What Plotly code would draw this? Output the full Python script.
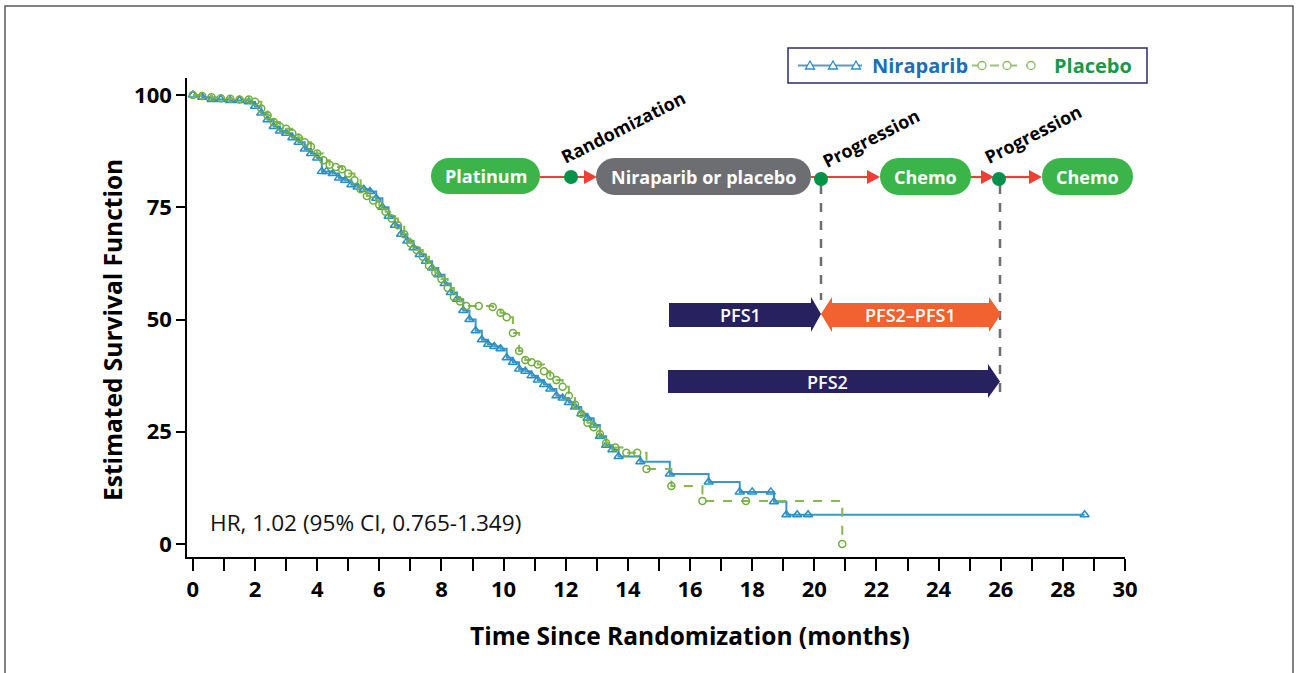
import plotly.graph_objects as go

# ---------------- data ----------------
nir_t = [0, 0.3, 0.6, 0.9, 1.2, 1.5, 1.8, 2.0, 2.2, 2.4, 2.6, 2.8, 3.0, 3.2, 3.4, 3.6, 3.8,
         4.0, 4.15, 4.3, 4.5, 4.7, 4.9, 5.1, 5.3, 5.5, 5.7, 5.9, 6.1, 6.3, 6.5, 6.7, 6.9,
         7.1, 7.3, 7.5, 7.7, 7.9, 8.1, 8.3, 8.5, 8.7, 8.9, 9.1, 9.3, 9.5, 9.7, 9.9, 10.1,
         10.3, 10.5, 10.7, 10.9, 11.1, 11.3, 11.5, 11.7, 11.9, 12.1, 12.3, 12.5, 12.7, 12.9,
         13.1, 13.3, 13.5, 13.7, 14.4, 15.35, 16.6, 17.6, 18.0, 18.6, 18.7, 19.1, 19.45,
         19.8, 28.7]
nir_s = [100, 99.5, 99, 99, 98.8, 98.8, 98.5, 97.5, 96, 94.5, 93, 92, 91.5, 90.5, 89.5, 88,
         87, 86, 83, 83, 82.5, 81.5, 81, 80, 79.5, 79, 78.5, 77, 75, 73, 71, 69, 67.5, 66,
         64.5, 63, 61.5, 60, 58, 56, 54.5, 52, 50, 47.5, 45.5, 44.5, 44, 43.5, 41.5, 40.5,
         39, 38.5, 37.5, 36.5, 35.5, 34.5, 33, 32.5, 31.5, 30.5, 29, 28, 26.5, 24, 22, 21,
         19.5, 18.3, 15.6, 13.8, 11.6, 11.6, 11.6, 9.4, 6.5, 6.5, 6.5, 6.5]

pla_t = [0, 0.3, 0.6, 0.9, 1.2, 1.5, 1.8, 2.0, 2.2, 2.4, 2.6, 2.8, 3.0, 3.2, 3.4, 3.6, 3.8,
         4.0, 4.2, 4.4, 4.6, 4.8, 5.0, 5.2, 5.4, 5.6, 5.8, 6.0, 6.2, 6.4, 6.6, 6.8, 7.0,
         7.2, 7.4, 7.6, 7.8, 8.0, 8.2, 8.4, 8.6, 8.8, 9.2, 9.65, 9.9, 10.1, 10.3, 10.5,
         10.7, 10.9, 11.1, 11.3, 11.5, 11.7, 11.9, 12.1, 12.3, 12.5, 12.7, 12.9, 13.1,
         13.3, 13.6, 13.95, 14.3, 14.6, 15.4, 16.4, 17.8, 20.9]
pla_s = [100, 99.8, 99.5, 99.3, 99.2, 99, 99, 98.5, 97, 95.5, 94, 93, 92.5, 91.5, 90.5,
         89.5, 88.5, 87, 85.5, 84.5, 84, 83.5, 82.5, 81, 79, 77.5, 76.5, 75.5, 74, 72.5,
         71, 69, 67, 65.5, 64, 62, 60.5, 59, 57, 55, 54, 53, 53, 52.8, 51.5, 50.5, 47, 43,
         41, 40.5, 40, 38.5, 37.5, 36.5, 35, 33, 31, 29, 27, 26, 24.5, 22.5, 21.5, 20.3,
         20.3, 16.7, 12.9, 9.6, 9.6, 0]

x_ticks = list(range(0, 31, 2))
y_ticks = [0, 25, 50, 75, 100]
series_names = ["Niraparib", "Placebo"]

# ---------------- layout geometry helpers ----------------
W, H = 1297, 673
L, R, T, B = 187, 1125, 78, 557
FONT = "Open Sans"


def P(x, y):
    return ((x - L) / (R - L), (B - y) / (B - T))


def poly(points, close=True):
    s = ""
    for i, (x, y) in enumerate(points):
        px, py = P(x, y)
        s += ("M" if i == 0 else "L") + f"{px:.5f},{py:.5f} "
    return s + ("Z" if close else "")


def pill(x0, y0, x1, y1):
    r = (y1 - y0) / 2
    cy = (y0 + y1) / 2
    k = 0.5523 * r
    segs = [("M", [(x0 + r, y0)]), ("L", [(x1 - r, y0)]),
            ("C", [(x1 - r + k, y0), (x1, cy - k), (x1, cy)]),
            ("C", [(x1, cy + k), (x1 - r + k, y1), (x1 - r, y1)]),
            ("L", [(x0 + r, y1)]),
            ("C", [(x0 + r - k, y1), (x0, cy + k), (x0, cy)]),
            ("C", [(x0, cy - k), (x0 + r - k, y0), (x0 + r, y0)])]
    s = ""
    for cmd, pts in segs:
        s += cmd + " ".join(f"{P(x, y)[0]:.5f},{P(x, y)[1]:.5f}" for x, y in pts) + " "
    return s + "Z"


shapes = []
annotations = []


def label(txt, cx, cy, size, color="black", weight="bold", angle=0, xanchor="center"):
    a, b = P(cx, cy)
    annotations.append(dict(xref="paper", yref="paper", x=a, y=b, text=txt, showarrow=False,
                            xanchor=xanchor, yanchor="middle", textangle=angle,
                            font=dict(family=FONT, size=size, color=color, weight=weight)))


def pline(x0, y0, x1, y1, color, width, dash="solid"):
    a0, b0 = P(x0, y0)
    a1, b1 = P(x1, y1)
    shapes.append(dict(type="line", xref="paper", yref="paper", x0=a0, y0=b0, x1=a1, y1=b1,
                       line=dict(color=color, width=width, dash=dash)))


# outer frame
fx0, fy0 = P(5, 6)
fx1, fy1 = P(1293, 700)
shapes.append(dict(type="rect", xref="paper", yref="paper", x0=fx0, x1=fx1, y0=fy1, y1=fy0,
                   line=dict(color="#5a5a5a", width=1.5), layer="below"))

GREEN_PILL = "#3bb54a"
GRAY_PILL = "#6d6e71"
RED = "#ee3e36"
DOT = "#00924a"
NAVY = "#27215f"
ORANGE = "#f26130"
NIR_LINE = "#3b97c4"
NIR_MARK = "#2a8ec4"
PLA_LINE = "#86b94e"
PLA_MARK = "#72ad3f"

# ---------------- custom legend ----------------
bx0, by0 = P(788, 48)
bx1, by1 = P(1147, 83)
shapes.append(dict(type="rect", xref="paper", yref="paper", x0=bx0, x1=bx1, y0=by1, y1=by0,
                   line=dict(color="#2e2a6e", width=1.5), fillcolor="white"))
LGY = 65.5
pline(798, LGY, 862, LGY, "#5f9ab8", 2)
for mx in [810, 833, 856]:
    shapes.append(dict(type="path", xref="paper", yref="paper",
                       path=poly([(mx - 4.5, LGY + 3.5), (mx, LGY - 4.5), (mx + 4.5, LGY + 3.5)]),
                       fillcolor="white", line=dict(color=NIR_MARK, width=1.3)))
label(series_names[0], 920, LGY, 20, color="#1a6fb5")
pline(972, LGY, 1043, LGY, "#9cc27a", 2, dash="dash")
for mx in [982, 1007, 1031]:
    a0, b0 = P(mx - 4, LGY + 4)
    a1, b1 = P(mx + 4, LGY - 4)
    shapes.append(dict(type="circle", xref="paper", yref="paper", x0=a0, x1=a1, y0=b0, y1=b1,
                       fillcolor="white", line=dict(color="#8bb960", width=1.3)))
label(series_names[1], 1093, LGY, 20, color="#17994a")

# ---------------- schematic ----------------
pills = [(431, 158, 540, 194, GREEN_PILL, "Platinum"),
         (596, 158, 811, 195, GRAY_PILL, "Niraparib or placebo"),
         (880, 158, 971, 195, GREEN_PILL, "Chemo"),
         (1042, 158, 1133, 195, GREEN_PILL, "Chemo")]
for x0, y0, x1, y1, col, txt in pills:
    shapes.append(dict(type="path", xref="paper", yref="paper", path=pill(x0, y0, x1, y1),
                       fillcolor=col, line=dict(width=0)))
    label(txt, (x0 + x1) / 2, (y0 + y1) / 2, 18, color="white")

LY = 177
connectors = [(540, 597), (811, 880), (971, 994), (1004, 1042)]
for xa, xb in connectors:
    pline(xa, LY, xb - 10, LY, RED, 2.2)
    shapes.append(dict(type="path", xref="paper", yref="paper",
                       path=poly([(xb - 13, LY - 7), (xb, LY), (xb - 13, LY + 7)]),
                       fillcolor=RED, line=dict(width=0)))

for xv, yb in [(821, 300), (1000, 398)]:
    pline(xv, 185, xv, yb, "#6d6e71", 2.5, dash="dash")

for xd, yd in [(571, 177), (821, 179), (999, 179)]:
    a0, b0 = P(xd - 7, yd + 7)
    a1, b1 = P(xd + 7, yd - 7)
    shapes.append(dict(type="circle", xref="paper", yref="paper", x0=a0, x1=a1, y0=b0, y1=b1,
                       fillcolor=DOT, line=dict(width=0)))

for txt, cx, cy in [("Randomization", 623, 127), ("Progression", 871, 138),
                    ("Progression", 1033, 134)]:
    label(txt, cx, cy, 18, angle=-27)

shapes.append(dict(type="path", xref="paper", yref="paper",
                   path=poly([(669, 303), (811, 303), (811, 297), (821, 314), (811, 332),
                              (811, 327), (669, 327)]),
                   fillcolor=NAVY, line=dict(width=0)))
shapes.append(dict(type="path", xref="paper", yref="paper",
                   path=poly([(821, 314), (832, 297), (832, 303), (989, 303), (989, 297),
                              (1001, 314), (989, 332), (989, 327), (832, 327), (832, 332)]),
                   fillcolor=ORANGE, line=dict(width=0)))
shapes.append(dict(type="path", xref="paper", yref="paper",
                   path=poly([(668, 370), (988, 370), (988, 364), (1000, 381.5), (988, 398),
                              (988, 393), (668, 393)]),
                   fillcolor=NAVY, line=dict(width=0)))
for txt, cx, cy in [("PFS1", 740, 315), ("PFS2\u2013PFS1", 910, 315), ("PFS2", 827, 382)]:
    label(txt, cx, cy, 18, color="white", weight=600)

label("HR, 1.02 (95% CI, 0.765-1.349)", 208, 522, 22.6, color="#111111", weight="normal",
      xanchor="left")

label("Time Since Randomization (months)", 690, 635, 24.5)
label("Estimated Survival Function", 112, 330, 24.5, angle=-90)

# ---------------- traces ----------------
fig = go.Figure()
fig.add_trace(go.Scatter(
    x=nir_t, y=nir_s, mode="lines+markers", line_shape="hv", name=series_names[0],
    line=dict(color=NIR_LINE, width=2),
    marker=dict(symbol="triangle-up-open", size=8, color=NIR_MARK, line=dict(width=1.5)),
))
fig.add_trace(go.Scatter(
    x=pla_t, y=pla_s, mode="lines+markers", line_shape="hv", name=series_names[1],
    line=dict(color=PLA_LINE, width=2, dash="dash"),
    marker=dict(symbol="circle-open", size=7, color=PLA_MARK, line=dict(width=1.5)),
))

fig.update_layout(
    width=W, height=H, autosize=False,
    margin=dict(l=L, r=W - R, t=T, b=H - B, pad=0),
    paper_bgcolor="white", plot_bgcolor="white",
    font=dict(family=FONT, color="black"),
    showlegend=False,
    shapes=shapes, annotations=annotations,
    xaxis=dict(range=[-0.19, 30], tickvals=x_ticks, ticktext=[str(v) for v in x_ticks],
               ticks="outside", ticklen=12, tickwidth=1.5, tickcolor="black",
               minor=dict(dtick=1, ticks="outside", ticklen=12, tickwidth=1.5,
                          tickcolor="black"),
               showline=True, linecolor="black", linewidth=1.5, showgrid=False,
               zeroline=False,
               tickfont=dict(family=FONT, size=22, color="black", weight="bold")),
    yaxis=dict(range=[-2.9, 103.8], tickvals=y_ticks, ticks="outside", ticklen=9,
               tickwidth=1.5, tickcolor="black", showline=True, linecolor="black",
               linewidth=1.5, showgrid=False, zeroline=False,
               tickfont=dict(family=FONT, size=22, color="black", weight="bold")),
)

fig.write_html("out.html", config={"displayModeBar": False},
               post_script="document.body.style.margin='0';"
                           "document.body.style.overflow='hidden';")
